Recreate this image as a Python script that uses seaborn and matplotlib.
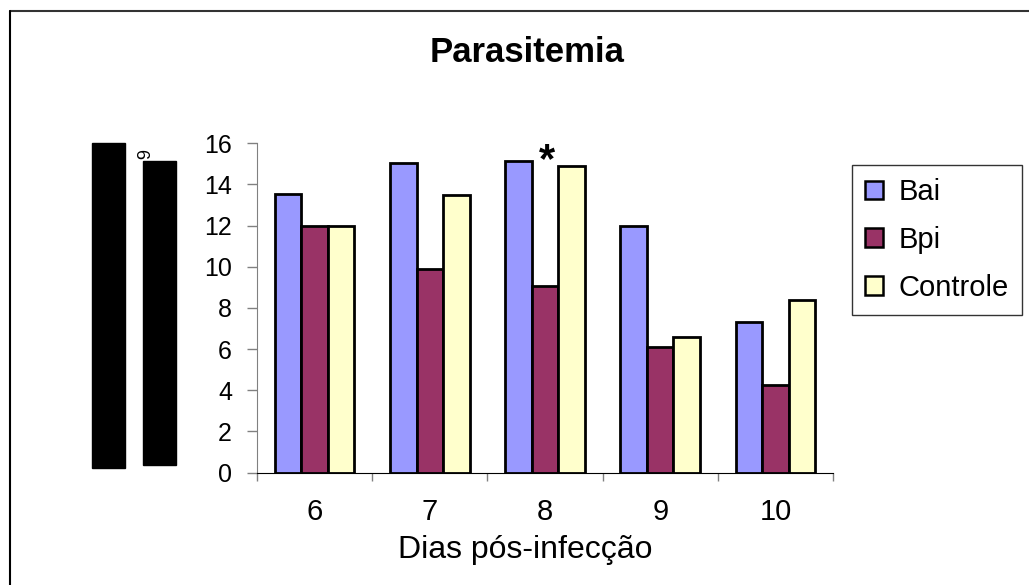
import numpy as np
import pandas as pd
import seaborn as sns
import matplotlib.pyplot as plt
from matplotlib.patches import Rectangle, Patch
from matplotlib.lines import Line2D

# Dados
dias = ['6', '7', '8', '9', '10']
bai = [13.55, 15.05, 15.15, 12.0, 7.3]
bpi = [12.0, 9.9, 9.05, 6.1, 4.25]
controle = [12.0, 13.5, 14.9, 6.6, 8.4]
grupos = ['Bai', 'Bpi', 'Controle']
cores = ['#9999FF', '#993366', '#FFFFCC']
yticks = list(range(0, 17, 2))

df = pd.DataFrame({
    'Dia': dias * 3,
    'Valor': bai + bpi + controle,
    'Grupo': [g for g in grupos for _ in dias],
})

sns.set_style('white')
plt.rcParams['font.family'] = ['Liberation Sans', 'DejaVu Sans']
plt.rcParams['text.color'] = 'black'
plt.rcParams['axes.labelcolor'] = 'black'
plt.rcParams['xtick.color'] = 'black'
plt.rcParams['ytick.color'] = 'black'

W, H = 1029, 585
fig = plt.figure(figsize=(W / 100, H / 100), dpi=100)
ax = fig.add_axes([257 / W, 1 - 472.5 / H, (833 - 257) / W, (472.5 - 143.3) / H])

sns.barplot(data=df, x='Dia', y='Valor', hue='Grupo', hue_order=grupos,
            palette=cores, width=0.69, edgecolor='black', linewidth=2.0,
            saturation=1, ax=ax)

# eixos
ax.set_ylim(0, 16)
ax.set_yticks(yticks)
ax.set_xlim(-0.5, len(dias) - 0.5)
ax.set_xticks(np.arange(-0.5, len(dias), 1.0), minor=True)
ax.tick_params(axis='y', left=True, length=7, width=1, color='#808080',
               labelsize=18, pad=11)
ax.tick_params(axis='x', which='major', bottom=True, length=0, labelsize=21, pad=18)
ax.tick_params(axis='x', which='minor', bottom=True, length=6, width=1, color='#808080')
for s in ['top', 'right']:
    ax.spines[s].set_visible(False)
ax.spines['left'].set_color('#808080')
ax.spines['bottom'].set_color('black')
ax.set_ylabel('')
ax.set_xlabel('Dias pós-infecção', fontsize=23)
ax.xaxis.set_label_coords((525 - 257) / 576, -0.19)

# asterisco sobre o dia 8
ax.text(2.02, 14.6, '*', ha='center', va='baseline', fontsize=30, fontweight='bold')

fig.text(527 / W, 1 - 53 / H, 'Parasitemia', ha='center', va='center',
         fontsize=25, fontweight='bold')

# legenda
ax.get_legend().remove()
handles = [Patch(facecolor=c, edgecolor='black', linewidth=1.8) for c in cores]
leg = ax.legend(handles, grupos, loc='upper left',
                bbox_to_anchor=(852 / W, 1 - 165 / H), bbox_transform=fig.transFigure,
                borderaxespad=0, frameon=True, fancybox=False, edgecolor='#333333',
                framealpha=1, fontsize=21, handlelength=0.6, handleheight=0.6,
                handletextpad=0.55, labelspacing=0.68, borderpad=0.45)
leg.get_frame().set_linewidth(1.0)

# blocos pretos à esquerda e moldura
fig.add_artist(Rectangle((92 / W, 1 - 468 / H), 33 / W, 325 / H,
                         transform=fig.transFigure, color='black'))
fig.add_artist(Rectangle((143 / W, 1 - 465 / H), 33 / W, 304 / H,
                         transform=fig.transFigure, color='black'))
fig.text(140 / W, 1 - 154 / H, '6', rotation=-90, ha='center', va='center', fontsize=13)
fig.add_artist(Line2D([10 / W, 1], [1 - 11 / H] * 2, transform=fig.transFigure,
                      color='#333333', lw=1.5))
fig.add_artist(Line2D([10 / W] * 2, [0, 1 - 11 / H], transform=fig.transFigure,
                      color='black', lw=1.5))

fig.savefig('out.png', dpi=100)
